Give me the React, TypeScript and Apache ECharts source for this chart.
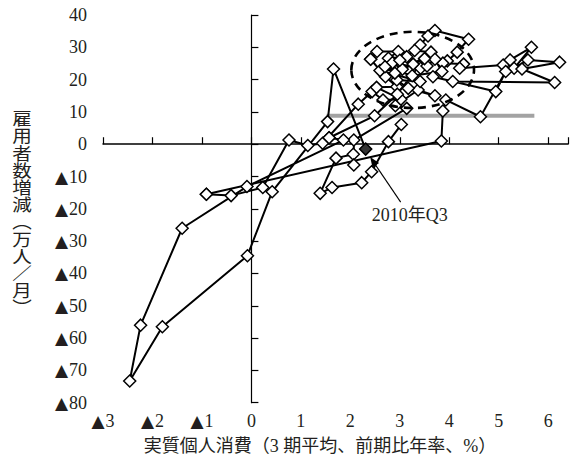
import React, { useEffect, useRef } from "react";
import * as echarts from "echarts";

// x: real personal consumption (3-period average, annualised q/q, %)
// y: change in payroll employment (10k persons per month)
const path1990to1993: [number, number][] = [
  [-0.91, -15.5], [-0.41, -15.9], [0.23, -13.4], [0.76, 1.3], [1.14, -0.4],
  [1.44, 0.3], [2.16, 12.4], [2.44, 16.3], [2.66, 13.7], [3.02, 13.9],
  [2.53, 17.6], [2.94, 17.8], [2.71, 20.9], [2.41, 26.3],
];

const path1994to2000: [number, number][] = [
  [2.41, 26.3], [2.54, 28.7], [2.97, 28.7], [2.77, 26.6], [3.14, 27.1],
  [3.41, 30.7], [3.57, 33.5], [3.71, 35.2], [4.39, 32.5], [4.16, 28.5],
  [3.96, 25.8], [3.87, 25.1], [4.29, 24.8], [4.21, 23.5], [5.09, 24.5],
  [5.23, 26.1], [5.66, 30.0], [5.31, 23.5], [5.59, 26.1], [6.23, 25.4],
  [5.47, 23.3], [6.13, 19.1], [4.07, 19.4], [3.67, 20.9], [4.94, 16.3],
  [5.14, 22.5], [4.63, 8.5], [3.93, 13.7], [3.87, 10.3], [3.84, 1.0],
  [-0.91, -15.5],
];

const path2001to2007: [number, number][] = [
  [3.03, 6.1], [2.77, 0.8], [2.43, -8.5], [2.23, -11.9], [1.63, -13.4],
  [1.39, -15.2], [1.71, -4.3], [2.06, -3.1], [2.07, -6.4], [2.07, 1.3],
  [3.14, 11.1], [2.91, 11.9], [3.37, 16.8], [3.71, 15.0], [3.17, 17.3],
  [2.94, 19.9], [3.41, 19.4], [2.60, 22.8], [3.05, 23.2], [2.85, 25.2],
  [3.42, 23.5], [3.27, 24.8], [3.63, 28.5], [3.30, 29.0], [3.00, 26.0],
  [3.55, 24.2], [3.71, 26.3], [3.85, 22.5], [3.25, 21.2], [2.70, 24.0],
  [2.90, 22.0], [3.50, 26.5], [2.95, 15.5], [2.49, 8.8], [1.57, 2.0],
];

const path2008to2010: [number, number][] = [
  [1.57, 2.0], [1.86, 1.3], [-0.09, -13.1], [-1.4, -26.0], [-2.24, -56.0],
  [-2.46, -73.3], [-1.8, -56.5], [-0.08, -34.5], [0.42, -14.7], [1.54, 7.0],
  [1.66, 23.3], [2.31, -1.5],
];

const latestQuarter: [number, number][] = [[2.31, -1.5]];
const latestLabel = "2010年Q3";

// horizontal reference level and the 2004–06 cluster outline (centre, radii in axis units)
const referenceLine: [number, number][] = [[1.52, 8.85], [5.72, 8.85]];
const clusterCentre: [number, number] = [3.26, 23.0];
const clusterRadii: [number, number] = [1.24, 11.8];

const xRange: [number, number] = [-3, 6.4];
const yRange: [number, number] = [-80, 40];

const xTitle = "実質個人消費（3 期平均、前期比年率、%）";
const yTitle = ["雇", "用", "者", "数", "増", "減", "︵", "万", "人", "／", "月", "︶"];

const SERIF = "'Liberation Serif', 'DejaVu Serif', 'Noto Sans CJK JP', serif";
const INK = "#231f20";
const LINE = "#000000";

// negative values are written with a solid triangle instead of a minus sign
const signed = (v: number) => (v < 0 ? "{t|▲}" + Math.abs(v) : String(v));
const triangleRich = {
  t: { fontFamily: "'DejaVu Sans'", fontSize: 17, color: INK, padding: [0, 1, 0, 0] },
};

export default function App() {
  const ref = useRef<HTMLDivElement>(null);

  useEffect(() => {
    if (!ref.current) return;
    const chart = echarts.init(ref.current, undefined, { renderer: "svg" });

    const pathSeries = [path1990to1993, path1994to2000, path2001to2007, path2008to2010].map(
      (data) => ({
        type: "line",
        data,
        xAxisIndex: 0,
        yAxisIndex: 0,
        symbol: "diamond",
        symbolSize: 12,
        showAllSymbol: true,
        z: 3,
        lineStyle: { color: LINE, width: 2 },
        itemStyle: { color: "#ffffff", borderColor: LINE, borderWidth: 1.5 },
      })
    );

    const option: any = {
      animation: false,
      backgroundColor: "#ffffff",
      grid: { left: 103, top: 15, width: 470, height: 387.7, containLabel: false },
      xAxis: [
        {
          type: "value",
          min: xRange[0],
          max: xRange[1],
          interval: 1,
          position: "bottom",
          axisLine: { show: false, onZero: false },
          axisTick: { show: false },
          splitLine: { show: false },
          axisLabel: {
            margin: 9,
            color: INK,
            fontFamily: SERIF,
            fontSize: 18,
            rich: triangleRich,
            formatter: (v: number) => (Number.isInteger(v) ? signed(v) : ""),
          },
        },
        {
          type: "value",
          min: xRange[0],
          max: xRange[1],
          interval: 1,
          position: "bottom",
          axisLine: { show: true, onZero: true, onZeroAxisIndex: 1, lineStyle: { color: LINE, width: 1.5 } },
          axisTick: { show: true, inside: true, length: 7, lineStyle: { color: LINE, width: 1.2 } },
          axisLabel: { show: false },
          splitLine: { show: false },
        },
      ],
      yAxis: [
        {
          type: "value",
          min: yRange[0],
          max: yRange[1],
          interval: 10,
          position: "left",
          axisLine: { show: false, onZero: false },
          axisTick: { show: false },
          splitLine: { show: false },
          axisLabel: {
            margin: 16,
            color: INK,
            fontFamily: SERIF,
            fontSize: 18,
            rich: triangleRich,
            formatter: (v: number) => signed(v),
          },
        },
        {
          type: "value",
          min: yRange[0],
          max: yRange[1],
          interval: 10,
          position: "left",
          axisLine: { show: true, onZero: true, onZeroAxisIndex: 1, lineStyle: { color: LINE, width: 1.2 } },
          axisTick: { show: true, inside: true, length: 7, lineStyle: { color: LINE, width: 1.2 } },
          axisLabel: { show: false },
          splitLine: { show: false },
        },
      ],
      series: [
        {
          type: "line",
          data: referenceLine,
          xAxisIndex: 0,
          yAxisIndex: 0,
          symbol: "none",
          z: 2,
          lineStyle: { color: "#a3a3a3", width: 4 },
        },
        ...pathSeries,
        {
          type: "scatter",
          data: latestQuarter,
          xAxisIndex: 0,
          yAxisIndex: 0,
          symbol: "diamond",
          symbolSize: 12,
          z: 5,
          itemStyle: { color: LINE, borderColor: LINE, borderWidth: 1 },
        },
      ],
    };

    chart.setOption(option);

    const toPx = (p: [number, number]) =>
      chart.convertToPixel({ xAxisIndex: 0, yAxisIndex: 0 }, p) as number[];

    const c = toPx(clusterCentre);
    const e = toPx([clusterCentre[0] + clusterRadii[0], clusterCentre[1] + clusterRadii[1]]);
    const rx = e[0] - c[0];
    const ry = c[1] - e[1];

    const p = toPx(latestQuarter[0]);
    const tip = [p[0] + 4.5, p[1] + 8];
    const tail = [p[0] + 35, p[1] + 53];
    const dx = tip[0] - tail[0];
    const dy = tip[1] - tail[1];
    const len = Math.hypot(dx, dy);
    const ux = dx / len;
    const uy = dy / len;
    const headLen = 10;
    const headHalf = 4;
    const base = [tip[0] - ux * headLen, tip[1] - uy * headLen];
    const head = [
      tip,
      [base[0] - uy * headHalf, base[1] + ux * headHalf],
      [base[0] + uy * headHalf, base[1] - ux * headHalf],
    ];

    chart.setOption({
      graphic: [
        {
          type: "ellipse",
          silent: true,
          z: 10,
          shape: { cx: c[0], cy: c[1], rx, ry },
          style: { fill: "none", stroke: LINE, lineWidth: 2.6, lineDash: [8, 6] },
        },
        {
          type: "line",
          silent: true,
          z: 10,
          shape: { x1: tail[0], y1: tail[1], x2: base[0], y2: base[1] },
          style: { stroke: LINE, lineWidth: 1.1 },
        },
        {
          type: "polygon",
          silent: true,
          z: 10,
          shape: { points: head },
          style: { fill: LINE },
        },
        {
          type: "text",
          silent: true,
          z: 10,
          x: p[0] + 44,
          y: p[1] + 66,
          style: {
            text: latestLabel,
            font: `18px ${SERIF}`,
            fill: INK,
            align: "center",
            verticalAlign: "middle",
          },
        },
        {
          type: "text",
          silent: true,
          x: 320,
          y: 446,
          style: {
            text: xTitle,
            font: `18px ${SERIF}`,
            fill: INK,
            align: "center",
            verticalAlign: "middle",
          },
        },
        {
          type: "text",
          silent: true,
          x: 22,
          y: 111,
          scaleX: 1.15,
          style: {
            text: yTitle.join("\n"),
            font: `17px ${SERIF}`,
            lineHeight: 17.2,
            fill: INK,
            align: "center",
            verticalAlign: "top",
          },
        },
      ],
    });

    return () => chart.dispose();
  }, []);

  return (
    <div
      ref={ref}
      style={{ position: "fixed", left: 0, top: 0, width: 571, height: 457, background: "#fff" }}
    />
  );
}
